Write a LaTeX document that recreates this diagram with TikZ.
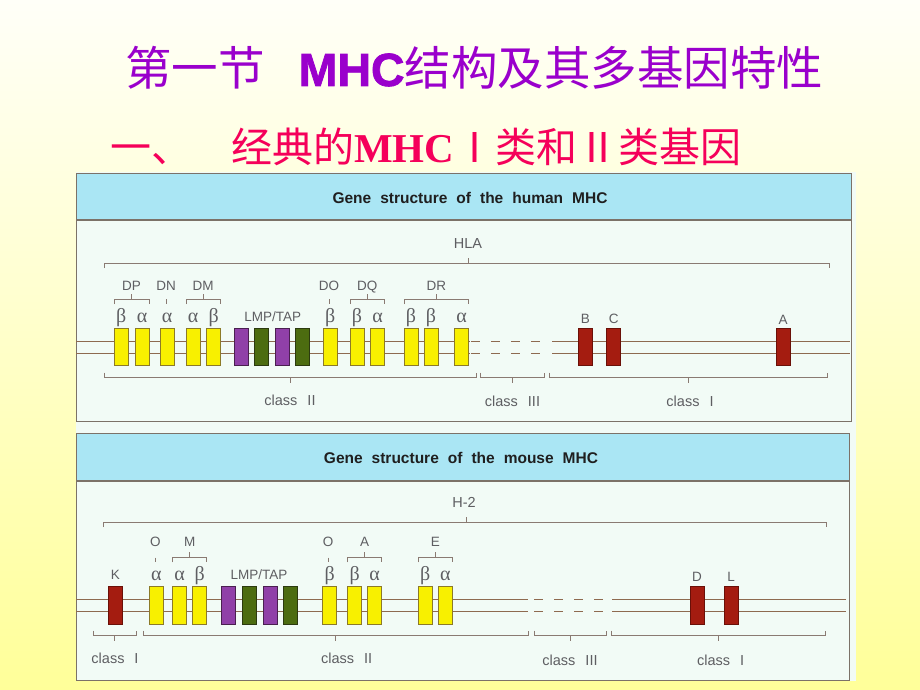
\documentclass[tikz,border=0pt]{standalone}
\usepackage{fontspec}
\setmainfont{Liberation Sans}
\newfontfamily\lsans{Liberation Sans}
\newfontfamily\mhcfat{Liberation Sans}[BoldFeatures={FakeBold=1.6}]
\newfontfamily\cjk{Noto Sans CJK SC}
\newfontfamily\serifgreek{Liberation Serif}
\definecolor{bgtop}{HTML}{FFFFF8}
\definecolor{bgbot}{HTML}{FFFF99}
\definecolor{photo}{HTML}{F2FBF6}
\definecolor{hdr}{HTML}{AAE6F4}
\definecolor{framecol}{HTML}{7C7268}
\definecolor{geneyellow}{HTML}{F8F000}
\definecolor{yedge}{HTML}{8C7A28}
\definecolor{genepurple}{HTML}{9040A8}
\definecolor{pedge}{HTML}{4A2050}
\definecolor{genegreen}{HTML}{4C6C10}
\definecolor{gedge}{HTML}{2C3A10}
\definecolor{genered}{HTML}{A41C10}
\definecolor{redge}{HTML}{6A1008}
\definecolor{chromcol}{HTML}{8E6A50}
\definecolor{brkcol}{HTML}{8A7A72}
\definecolor{labgray}{HTML}{5E5E62}
\definecolor{titlepurple}{HTML}{9A00CC}
\definecolor{titlered}{HTML}{F5005A}
\newcommand\titleone{\cjk 第一节\hspace{34pt}{\mhcfat\bfseries MHC}结构及其多基因特性}
\newcommand\titletwo{\cjk 经典的{\serifgreek\bfseries MHC}Ⅰ类和Ⅱ类基因}
\newcommand\grpbrk[3]{\draw[brk] (#1,#3+5) -- (#1,#3) -- (#2,#3) -- (#2,#3+5); \draw[brk] ({(#1+#2)/2},#3) -- ({(#1+#2)/2},#3-5);}
\newcommand\clsbrk[3]{\draw[brk] (#1,#3-4.5) -- (#1,#3) -- (#2,#3) -- (#2,#3-4.5); \draw[brk] ({(#1+#2)/2},#3) -- ({(#1+#2)/2},#3+6);}
\newcommand\longbrk[4]{\draw[brk] (#1,#3+5) -- (#1,#3) -- (#2,#3) -- (#2,#3+5); \draw[brk] (#4,#3) -- (#4,#3-5);}
\tikzset{
  gene/.style={rectangle, minimum width=14pt, inner sep=0pt, line width=0.7pt},
  ybox/.style={gene, fill=geneyellow, draw=yedge},
  pbox/.style={gene, fill=genepurple, draw=pedge},
  gbox/.style={gene, fill=genegreen, draw=gedge},
  rbox/.style={gene, fill=genered, draw=redge},
  lab/.style={anchor=base, inner sep=0pt, text=labgray, font=\lsans\fontsize{13.5}{16}\selectfont},
  biglab/.style={anchor=base, inner sep=0pt, text=labgray, font=\lsans\fontsize{14.5}{17}\selectfont},
  clslab/.style={anchor=base, inner sep=0pt, text=labgray, font=\lsans\fontsize{14.5}{17}\selectfont},
  greek/.style={anchor=base, inner sep=0pt, text=labgray, font=\serifgreek\fontsize{20}{22}\selectfont},
  hdrtext/.style={anchor=base, inner sep=0pt, text=black!88, font=\lsans\bfseries\fontsize{15.5}{18}\selectfont},
  chrom/.style={draw=chromcol, line width=0.9pt},
  chromdash/.style={draw=chromcol, line width=0.9pt, dash pattern=on 9pt off 11pt},
  brk/.style={draw=brkcol, line width=0.8pt},
  panelframe/.style={draw=framecol, line width=0.9pt},
}
\begin{document}
\begin{tikzpicture}[x=1pt,y=-1pt]
\useasboundingbox (0,0) rectangle (920,690);
\shade[top color=bgtop, bottom color=bgbot] (0,0) rectangle (920,690);

% titles
\node[anchor=base west, inner sep=0pt, text=titlepurple, font=\fontsize{46.5}{50}\selectfont] (t1) at (125,86) {\titleone};
\node[anchor=base west, inner sep=0pt, text=titlered, font=\cjk\fontsize{41}{44}\selectfont] (t2a) at (110,162) {一、};
\node[anchor=base west, inner sep=0pt, text=titlered, font=\fontsize{41}{44}\selectfont] (t2b) at (231,162) {\titletwo};

% photo background
\fill[photo] (76,172) rectangle (856,681);

% ---------------- panel 1 (human) ----------------
\fill[hdr] (76,173) rectangle (851,220);
\draw[panelframe] (76,173) rectangle (851,421);
\draw[framecol, line width=1.3pt] (76,220) -- (851,220);
\node[hdrtext] (h1) at (470,203) {\spaceskip=9pt Gene structure of the human MHC};

\node[biglab] (hla) at (468,248) {HLA};
\longbrk{104}{829}{263}{468}

% chromosome lines
\foreach \yy in {341,353} {
  \draw[chrom] (76,\yy) -- (470,\yy);
  \draw[chromdash] (471,\yy) -- (545,\yy);
  \draw[chrom] (552,\yy) -- (850,\yy);
}

% boxes
\foreach \xx/\nn in {121.3/hb1,142/hb2,167/hb3,193/hb4,213.7/hb5,330.3/hb10,357/hb11,377.7/hb12,411/hb13,431/hb14,461.7/hb15}
  \node[ybox, minimum height=37pt] (\nn) at (\xx,346.5) {};
\node[pbox, minimum height=37pt] (hb6) at (241,346.5) {};
\node[gbox, minimum height=37pt] (hb7) at (261.7,346.5) {};
\node[pbox, minimum height=37pt] (hb8) at (282.7,346.5) {};
\node[gbox, minimum height=37pt] (hb9) at (302.7,346.5) {};
\node[rbox, minimum height=37pt] (hbB) at (585.3,346.5) {};
\node[rbox, minimum height=37pt] (hbC) at (613.7,346.5) {};
\node[rbox, minimum height=37pt] (hbA) at (783,346.5) {};

% greek
\foreach \xx/\gg/\nn in {121.3/β/hg1,142/α/hg2,167/α/hg3,193/α/hg4,213.7/β/hg5,330.3/β/hg10,357/β/hg11,377.7/α/hg12,411/β/hg13,431/β/hg14,461.7/α/hg15}
  \node[greek] (\nn) at (\xx,322) {\gg};
\node[lab] (hlmp) at (272.7,321) {LMP/TAP};
\node[lab] (hlB) at (585.3,323) {B};
\node[lab] (hlC) at (613.7,323) {C};
\node[lab] (hlA) at (783,324) {A};

% group labels
\node[lab] (hDP) at (131.5,290) {DP};
\node[lab] (hDN) at (166,290) {DN};
\node[lab] (hDM) at (203,290) {DM};
\node[lab] (hDO) at (329,290) {DO};
\node[lab] (hDQ) at (367.3,290) {DQ};
\node[lab] (hDR) at (436.3,290) {DR};
\grpbrk{114}{149}{299}
\draw[brk] (166,299) -- (166,304);
\grpbrk{186}{220}{299}
\draw[brk] (329,299) -- (329,304);
\grpbrk{350}{384.7}{299}
\grpbrk{404}{468.7}{299}

% class brackets
\clsbrk{104}{476}{377}
\clsbrk{480.7}{544.3}{377}
\clsbrk{549.3}{827.7}{377}
\node[clslab] (hc2) at (290,405.7) {\spaceskip=10pt class II};
\node[clslab] (hc3) at (512.5,406.5) {\spaceskip=10pt class III};
\node[clslab] (hc1) at (690,406.5) {\spaceskip=10pt class I};

% ---------------- panel 2 (mouse) ----------------
\fill[hdr] (76,433) rectangle (849,481);
\draw[panelframe] (76,433) rectangle (849,680);
\draw[framecol, line width=1.3pt] (76,481) -- (849,481);
\node[hdrtext] (h2) at (461,463) {\spaceskip=9pt Gene structure of the mouse MHC};

\node[biglab] (h2lab) at (464,507) {H-2};
\longbrk{103}{826}{522}{466.7}

\foreach \yy in {599,611.5} {
  \draw[chrom] (76,\yy) -- (528,\yy);
  \draw[chromdash] (534,\yy) -- (608,\yy);
  \draw[chrom] (612,\yy) -- (846,\yy);
}

\foreach \xx/\nn in {156.3/mb2,179.7/mb3,199.7/mb4,329.7/mb9,354.7/mb10,374.7/mb11,425.3/mb12,445.3/mb13}
  \node[ybox, minimum height=38pt] (\nn) at (\xx,605) {};
\node[rbox, minimum height=38pt] (mbK) at (115.3,605) {};
\node[pbox, minimum height=38pt] (mb5) at (228,605) {};
\node[gbox, minimum height=38pt] (mb6) at (249,605) {};
\node[pbox, minimum height=38pt] (mb7) at (270,605) {};
\node[gbox, minimum height=38pt] (mb8) at (290.3,605) {};
\node[rbox, minimum height=38pt] (mbD) at (697,605) {};
\node[rbox, minimum height=38pt] (mbL) at (731,605) {};

\foreach \xx/\gg/\nn in {156.3/α/mg2,179.7/α/mg3,199.7/β/mg4,329.7/β/mg9,354.7/β/mg10,374.7/α/mg11,425.3/β/mg12,445.3/α/mg13}
  \node[greek] (\nn) at (\xx,580) {\gg};
\node[lab] (mlmp) at (259,579) {LMP/TAP};
\node[lab] (mlK) at (115.3,579) {K};
\node[lab] (mlD) at (697,581) {D};
\node[lab] (mlL) at (731,581) {L};

\node[lab] (mO1) at (155.3,546.7) {O};
\node[lab] (mM) at (189.7,546.7) {M};
\node[lab] (mO2) at (328,546.7) {O};
\node[lab] (mA) at (364.7,546.7) {A};
\node[lab] (mE) at (435.3,546.7) {E};
\draw[brk] (155.3,557.5) -- (155.3,562);
\grpbrk{172.7}{206.7}{557.3}
\draw[brk] (328,557.5) -- (328,562);
\grpbrk{347.7}{381.7}{557.3}
\grpbrk{418.3}{452.3}{557.3}

\clsbrk{93.3}{136}{635}
\clsbrk{143.3}{528.3}{635}
\clsbrk{534}{606.7}{635}
\clsbrk{611.7}{825}{635}
\node[clslab] (mc1a) at (115,663) {\spaceskip=10pt class I};
\node[clslab] (mc2) at (346.7,663) {\spaceskip=10pt class II};
\node[clslab] (mc3) at (570,665) {\spaceskip=10pt class III};
\node[clslab] (mc1b) at (720.7,665.5) {\spaceskip=10pt class I};
\end{tikzpicture}
\end{document}
